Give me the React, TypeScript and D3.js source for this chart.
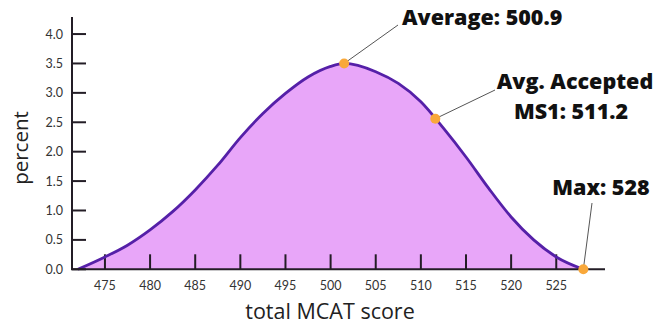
import React from "react";
import * as d3 from "d3";

const scores = [472, 475, 477.5, 480, 482.5, 485, 487.5, 490, 492.5, 495, 497.5, 500, 501.5, 505, 507.5, 510, 512.5, 515, 517.5, 520, 522.5, 525, 528];
const percents = [0, 0.21, 0.41, 0.67, 0.98, 1.35, 1.77, 2.24, 2.65, 2.99, 3.27, 3.45, 3.5, 3.36, 3.16, 2.85, 2.4, 1.91, 1.38, 0.89, 0.5, 0.21, 0];

const xTicks = [475, 480, 485, 490, 495, 500, 505, 510, 515, 520, 525];
const yTicks = [0, 0.5, 1, 1.5, 2, 2.5, 3, 3.5, 4];

const markerScores = [501.5, 511.6, 528];
const markerPercents = [3.5, 2.56, 0];

const W = 653;
const H = 325;

export default function App() {
  const x = d3.scaleLinear().domain([471.35, 530.4]).range([72, 605]);
  const y = d3.scaleLinear().domain([0, 4.29]).range([269.3, 17]);

  const data = scores.map((s, i) => [s, percents[i]] as [number, number]);
  const area = d3
    .area<[number, number]>()
    .x((d) => x(d[0]))
    .y0(y(0))
    .y1((d) => y(d[1]))
    .curve(d3.curveMonotoneX);
  const line = d3
    .line<[number, number]>()
    .x((d) => x(d[0]))
    .y((d) => y(d[1]))
    .curve(d3.curveMonotoneX);

  const markers = markerScores.map((s, i) => [x(s), y(markerPercents[i])]);

  const axisColor = "#231d26";
  const tickFont = "Lato, 'Open Sans', sans-serif";
  const boldFont = "'Open Sans', sans-serif";

  return (
    <svg
      width={W}
      height={H}
      style={{ position: "absolute", left: 0, top: 0, background: "#fff" }}
    >
      <path d={area(data) || ""} fill="#e8a6f9" />
      {xTicks.map((t) => (
        <g key={"xt" + t}>
          <line x1={x(t)} x2={x(t)} y1={y(0)} y2={y(0) - 15} stroke={axisColor} strokeWidth={2} />
          <text x={x(t)} y={289.5} textAnchor="middle" fontSize={12.5} fontFamily={tickFont} fill="#333">
            {t}
          </text>
        </g>
      ))}
      <path d={line(data) || ""} fill="none" stroke="#5520a8" strokeWidth={2.8} />
      <line x1={72} x2={72} y1={y(4.29)} y2={y(0)} stroke={axisColor} strokeWidth={2} />
      {yTicks.map((t) => (
        <g key={"yt" + t}>
          <line x1={72} x2={86} y1={y(t)} y2={y(t)} stroke={axisColor} strokeWidth={2} />
          <text x={63} y={y(t) + 4.5} textAnchor="end" fontSize={12.5} fontFamily={tickFont} fill="#333">
            {t.toFixed(1)}
          </text>
        </g>
      ))}
      <line x1={71} x2={605} y1={y(0)} y2={y(0)} stroke={axisColor} strokeWidth={2} />

      <line x1={markers[0][0]} y1={markers[0][1]} x2={398} y2={25} stroke="#555" strokeWidth={1} />
      <line x1={markers[1][0]} y1={markers[1][1]} x2={495} y2={90} stroke="#555" strokeWidth={1} />
      <line x1={markers[2][0]} y1={markers[2][1]} x2={592} y2={203} stroke="#555" strokeWidth={1} />

      {markers.map((m, i) => (
        <circle key={"m" + i} cx={m[0]} cy={m[1]} r={5} fill="#f9a83a" />
      ))}

      <text x={402} y={25} fontSize={21.5} fontWeight={800} fontFamily={boldFont} fill="#111">
        Average: 500.9
      </text>
      <text x={575} y={89} textAnchor="middle" fontSize={21.5} fontWeight={800} fontFamily={boldFont} fill="#111">
        Avg. Accepted
      </text>
      <text x={571} y={119} textAnchor="middle" fontSize={21.5} fontWeight={800} fontFamily={boldFont} fill="#111">
        MS1: 511.2
      </text>
      <text x={601} y={195} textAnchor="middle" fontSize={21.5} fontWeight={800} fontFamily={boldFont} fill="#111">
        Max: 528
      </text>

      <text x={330} y={319} textAnchor="middle" fontSize={21.5} fontFamily={boldFont} fill="#222">
        total MCAT score
      </text>
      <text
        transform="translate(28,148) rotate(-90)"
        textAnchor="middle"
        fontSize={20.5}
        fontFamily={boldFont}
        fill="#222"
      >
        percent
      </text>
    </svg>
  );
}
